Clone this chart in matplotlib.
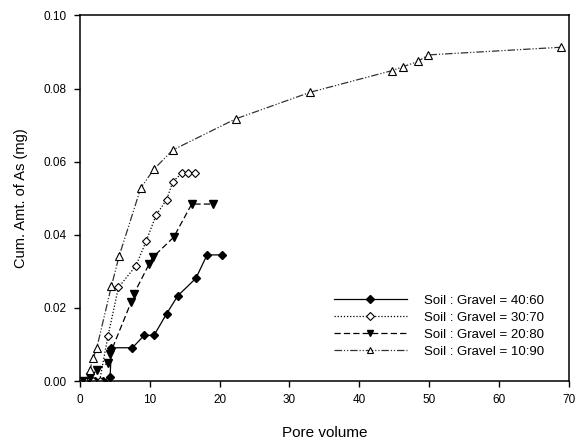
import numpy as np
import matplotlib
matplotlib.use('Agg')
import matplotlib.pyplot as plt

plt.rcParams['font.family'] = ['Liberation Sans', 'DejaVu Sans']
plt.rcParams['font.size'] = 8

# Soil : Gravel = 40:60 (filled diamonds, solid)
pv_4060 = [0.3, 1.2, 2.2, 3.3, 4.3, 4.5, 7.5, 9.2, 10.6, 12.4, 14.0, 16.6, 18.2, 20.3]
as_4060 = [0.0, 0.0, 0.0, 0.0, 0.001, 0.0091, 0.0091, 0.0125, 0.0125, 0.0184, 0.0233, 0.0281, 0.0345, 0.0345]

# Soil : Gravel = 30:70 (open diamonds, dotted)
pv_3070 = [0.2, 1.0, 1.9, 2.8, 4.0, 5.5, 8.0, 9.5, 10.9, 12.4, 13.3, 14.6, 15.5, 16.5]
as_3070 = [0.0, 0.0, 0.0, 0.0, 0.0123, 0.0256, 0.0315, 0.0384, 0.0454, 0.0496, 0.0545, 0.0569, 0.0569, 0.0569]

# Soil : Gravel = 20:80 (filled down triangles, dashed)
pv_2080 = [0.4, 1.4, 2.4, 4.0, 4.3, 7.3, 7.7, 9.9, 10.4, 13.4, 16.0, 19.0]
as_2080 = [0.0, 0.001, 0.003, 0.005, 0.0074, 0.0215, 0.0238, 0.032, 0.0338, 0.0393, 0.0484, 0.0484]

# Soil : Gravel = 10:90 (open triangles, dash-dot-dot)
pv_1090 = [0.0, 0.8, 1.4, 1.9, 2.4, 4.5, 5.6, 8.7, 10.6, 13.3, 22.3, 33.0, 44.7, 46.3, 48.4, 49.9, 68.9]
as_1090 = [0.0, 0.0, 0.003, 0.0064, 0.0091, 0.026, 0.0342, 0.0528, 0.058, 0.0632, 0.0717, 0.079, 0.0849, 0.086, 0.0874, 0.0892, 0.0913]

labels = ['Soil : Gravel = 40:60', 'Soil : Gravel = 30:70',
          'Soil : Gravel = 20:80', 'Soil : Gravel = 10:90']

fig = plt.figure(figsize=(5.76, 4.41), dpi=100)
ax = fig.add_axes([0.139, 0.136, 0.848, 0.829])

lw = 0.9
ax.plot(pv_4060, as_4060, color='black', ls='-', lw=lw, marker='D', ms=4.5,
        mfc='black', mec='black', label=labels[0])
ax.plot(pv_3070, as_3070, color='black', ls=(0, (1, 1.5)), lw=lw, marker='D', ms=4.5,
        mfc='white', mec='black', mew=0.8, label=labels[1])
ax.plot(pv_2080, as_2080, color='black', ls=(0, (5, 2.5)), lw=lw, marker='v', ms=6,
        mfc='black', mec='black', label=labels[2])
ax.plot(pv_1090, as_1090, color='#333333', ls=(0, (6, 1.5, 1, 1.5, 1, 1.5)), lw=lw, marker='^', ms=6,
        mfc='white', mec='black', mew=0.8, label=labels[3])

ax.set_xlim(0, 70)
ax.set_ylim(0, 0.10)
ax.set_xticks(np.arange(0, 71, 10))
ax.set_yticks(np.arange(0, 0.101, 0.02))
ax.set_yticklabels([f'{v:.2f}' for v in np.arange(0, 0.101, 0.02)])
ax.tick_params(direction='out', length=4.5, width=1, top=False, right=False, labelsize=8.5)
ax.tick_params(axis='x', pad=5)
ax.tick_params(axis='y', pad=5)
for s in ax.spines.values():
    s.set_linewidth(1.1)

ax.set_xlabel('Pore volume', fontsize=11, labelpad=14)
ax.set_ylabel('Cum. Amt. of As (mg)', fontsize=10.5, labelpad=11)

leg = ax.legend(loc='upper left', bbox_to_anchor=(0.52, 0.237), frameon=False, fontsize=9.5,
                handlelength=5.5, handletextpad=1.35, labelspacing=0.37,
                borderpad=0, borderaxespad=0)
for h in leg.legend_handles:
    h.set_markersize(4.5)

fig.savefig('out.png', dpi=100)
